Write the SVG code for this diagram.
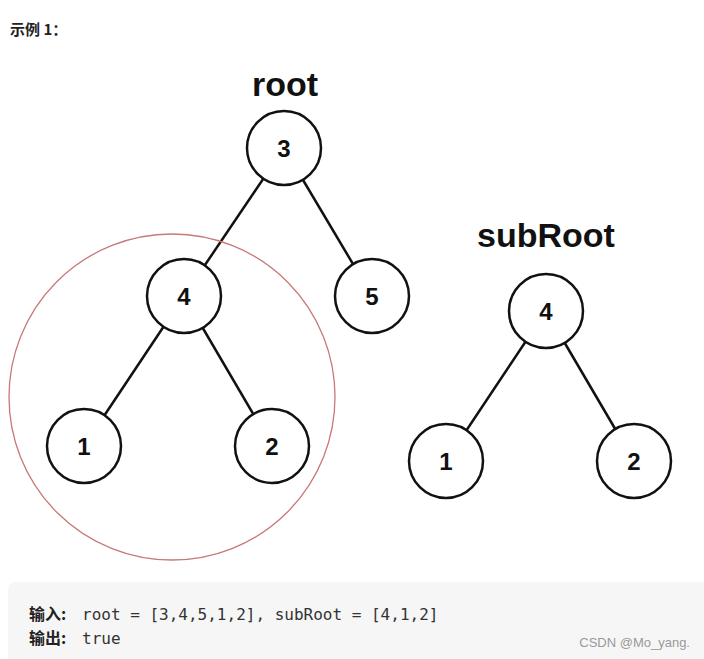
<svg xmlns="http://www.w3.org/2000/svg" width="704" height="659" viewBox="0 0 704 659">
<style>
.n{fill:#fff;stroke:#111;stroke-width:2.5}
.t{font-family:"Liberation Sans",Arial,sans-serif;font-weight:bold;font-size:24px;text-anchor:middle;fill:#111}
.e{stroke:#111;stroke-width:2.5}
.lab{font-family:"Liberation Sans",Arial,sans-serif;font-weight:bold;font-size:34px;text-anchor:middle;fill:#111}
.m{font-family:"DejaVu Sans Mono","Liberation Mono",monospace;font-size:16px;fill:#333}
.b{font-family:"Noto Sans CJK SC",sans-serif;font-weight:bold;font-size:16px;fill:#222}
</style>
<rect width="704" height="659" fill="#fff"/>
<text x="10" y="35" font-family="'Noto Sans CJK SC',sans-serif" font-weight="bold" font-size="15" fill="#222">示例 1：</text>
<text class="lab" x="285" y="96">root</text>
<text class="lab" x="546" y="247">subRoot</text>
<g id="connectors">
<line class="e" x1="284" y1="148" x2="184" y2="296"/>
<line class="e" x1="284" y1="148" x2="372" y2="296"/>
<line class="e" x1="184" y1="296" x2="84" y2="446"/>
<line class="e" x1="184" y1="296" x2="272" y2="446"/>
<line class="e" x1="546" y1="311" x2="446" y2="461"/>
<line class="e" x1="546" y1="311" x2="634" y2="461"/>
</g>
<g id="r3"><circle class="n" cx="284" cy="148" r="37"/><text class="t" x="284" y="157">3</text></g>
<g id="r4"><circle class="n" cx="184" cy="296" r="37"/><text class="t" x="184" y="305">4</text></g>
<g id="r5"><circle class="n" cx="372" cy="296" r="37"/><text class="t" x="372" y="305">5</text></g>
<g id="r1"><circle class="n" cx="84" cy="446" r="37"/><text class="t" x="84" y="455">1</text></g>
<g id="r2"><circle class="n" cx="272" cy="446" r="37"/><text class="t" x="272" y="455">2</text></g>
<g id="s4"><circle class="n" cx="546" cy="311" r="37"/><text class="t" x="546" y="320">4</text></g>
<g id="s1"><circle class="n" cx="446" cy="461" r="37"/><text class="t" x="446" y="470">1</text></g>
<g id="s2"><circle class="n" cx="634" cy="461" r="37"/><text class="t" x="634" y="470">2</text></g>
<g id="highlight"><circle cx="172" cy="397" r="163" fill="none" stroke="#c87878" stroke-width="1.3"/></g>
<rect x="8" y="582" width="710" height="90" rx="8" fill="#f6f6f6"/>
<text class="b" x="29" y="620">输入:</text>
<text class="m" x="82" y="620">root = [3,4,5,1,2], subRoot = [4,1,2]</text>
<text class="b" x="29" y="644">输出:</text>
<text class="m" x="82" y="644">true</text>
<text x="690" y="647" text-anchor="end" font-family="'Liberation Sans',sans-serif" font-size="13" fill="#999">CSDN @Mo_yang.</text>
</svg>
